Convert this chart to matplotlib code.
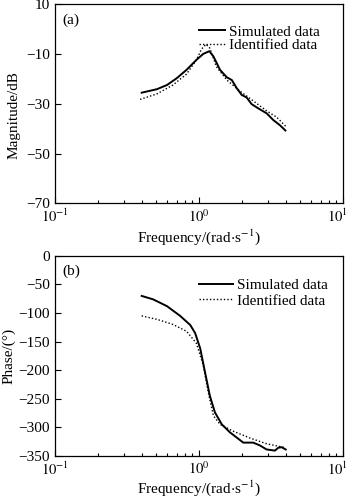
import numpy as np
import matplotlib
matplotlib.use("Agg")
import matplotlib.pyplot as plt
from matplotlib.transforms import ScaledTranslation

plt.rcParams['font.family'] = ['Liberation Serif', 'DejaVu Serif']
plt.rcParams['mathtext.fontset'] = 'stix'
plt.rcParams['font.size'] = 11

# Magnitude data
mag_sim_f = [0.40, 0.51, 0.60, 0.70, 0.82, 0.96, 1.07, 1.18, 1.26, 1.40, 1.56, 1.69, 1.83, 1.98, 2.14, 2.32, 2.58, 2.95, 3.28, 3.65, 3.98]
mag_sim_db = [-25.5, -24.1, -22.4, -19.7, -16.3, -12.3, -9.9, -8.8, -10.9, -16.3, -19.3, -20.4, -23.7, -26.4, -27.4, -30.1, -31.8, -33.8, -36.5, -38.6, -40.7]
mag_id_f = [0.39, 0.51, 0.66, 0.82, 0.96, 1.04, 1.12, 1.19, 1.32, 1.56, 1.95, 2.42, 2.95, 3.47, 4.0]
mag_id_db = [-28.2, -26.0, -22.4, -18.0, -12.3, -8.0, -6.0, -7.6, -15.0, -20.4, -25.1, -29.1, -32.8, -35.4, -39.0]

# Phase data
ph_sim_f = [0.40, 0.48, 0.60, 0.74, 0.87, 0.94, 1.02, 1.10, 1.19, 1.29, 1.44, 1.64, 1.87, 2.03, 2.38, 2.65, 2.95, 3.37, 3.55, 3.75, 4.0]
ph_sim_deg = [-70, -76, -88, -105, -121, -135, -162, -203, -245, -274, -295, -309, -320, -327, -327, -332, -339, -341, -336, -335, -339]
ph_id_f = [0.40, 0.51, 0.66, 0.82, 0.96, 1.07, 1.16, 1.26, 1.40, 1.73, 2.26, 2.95, 4.0]
ph_id_deg = [-105, -111, -120, -132, -153, -191, -239, -280, -295, -307, -319, -329, -336]

x_ticks = [0.1, 1, 10]
x_ticklabels = ['$10^{-1}$', '$10^{0}$', '$10^{1}$']

fig = plt.figure(figsize=(3.5, 4.97), dpi=100)
ax1 = fig.add_axes([0.157, 0.591, 0.823, 0.400])
ax2 = fig.add_axes([0.157, 0.083, 0.823, 0.402])

dot = (0, (1, 1.5))

for ax in (ax1, ax2):
    ax.set_xscale('log')
    ax.set_xlim(0.1, 10)
    ax.set_xticks(x_ticks, labels=x_ticklabels)
    ax.tick_params(which='both', direction='in', top=False, right=False, labelsize=11)
    ax.tick_params(axis='x', labelsize=10.5)
    ax.tick_params(which='major', length=4, width=0.8)
    ax.tick_params(which='minor', length=2.5, width=0.8)
    ax.tick_params(axis='x', which='major', pad=3.5)
    for s in ax.spines.values():
        s.set_linewidth(0.9)

ax1.set_xlabel('Frequency/(rad$\\cdot$s$^{-1}$)', fontsize=11, labelpad=1.5)
ax2.set_xlabel('Frequency/(rad$\\cdot$s$^{-1}$)', fontsize=11, labelpad=0)

ax1.plot(mag_sim_f, mag_sim_db, color='black', lw=1.4, ls='-', label='Simulated data')
ax1.plot(mag_id_f, mag_id_db, color='black', lw=1.0, ls=dot, label='Identified data')
ax1.set_ylim(-70, 10)
ax1.set_yticks([10, -10, -30, -50, -70])
ax1.set_ylabel('Magnitude/dB', fontsize=11)
ax1.yaxis.set_label_coords(-0.12, 0.445)
ax1.text(0.025, 0.955, '(a)', transform=ax1.transAxes, ha='left', va='top', fontsize=11)
ax1.legend(loc='upper right', frameon=False, fontsize=11, handlelength=1.7,
           handletextpad=0.3, labelspacing=0.0, borderaxespad=0.3, bbox_to_anchor=(0.958, 0.95))

ax2.plot(ph_sim_f, ph_sim_deg, color='black', lw=1.4, ls='-', label='Simulated data')
ax2.plot(ph_id_f, ph_id_deg, color='black', lw=1.0, ls=dot, label='Identified data')
ax2.set_ylim(-350, 0)
ax2.set_yticks([0, -50, -100, -150, -200, -250, -300, -350])
ax2.set_ylabel('Phase/(°)', fontsize=11, labelpad=2)
ax2.text(0.025, 0.955, '(b)', transform=ax2.transAxes, ha='left', va='top', fontsize=11)
ax2.legend(loc='upper right', frameon=False, fontsize=11, handlelength=2.2,
           handletextpad=0.3, labelspacing=0.1, borderaxespad=0.3, bbox_to_anchor=(0.986, 0.94))

# nudge the rightmost x tick label inward so it stays inside the figure
for ax in (ax1, ax2):
    lab = ax.xaxis.get_major_ticks()[-1].label1
    lab.set_transform(lab.get_transform() + ScaledTranslation(-4 / 72, 0, fig.dpi_scale_trans))

fig.savefig('out.png', dpi=100)
